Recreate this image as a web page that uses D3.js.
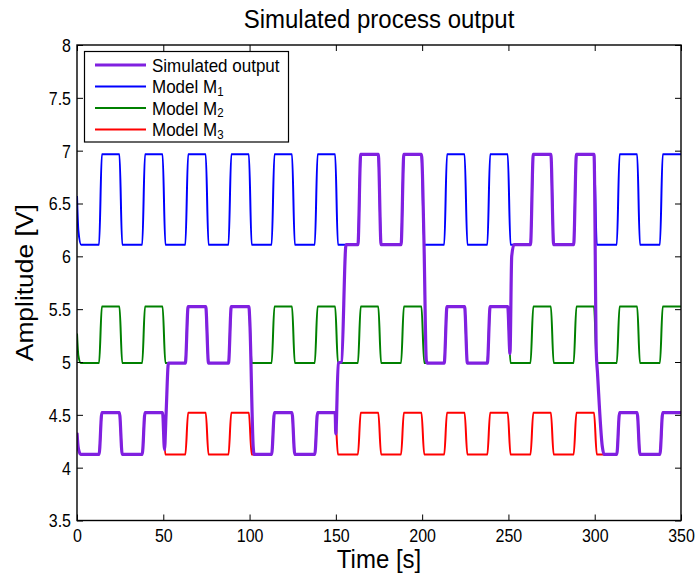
<!DOCTYPE html>
<html>
<head>
<meta charset="utf-8">
<script src="https://cdn.jsdelivr.net/npm/d3@7"></script>
<style>
  body { margin: 0; background: #fff; }
  svg text { font-family: "Liberation Sans", Arial, Helvetica, sans-serif; fill: #000; }
</style>
</head>
<body>
<div class="graph"></div>
<script>
// values
const timeDomain = [0, 350];
const ampDomain = [3.5, 8];
const xTicks = [0, 50, 100, 150, 200, 250, 300, 350];
const yTicks = [3.5, 4, 4.5, 5, 5.5, 6, 6.5, 7, 7.5, 8];

// switching instants of the square input (start of each edge, seconds)
const riseStarts = [12.8, 37.8, 62.8, 87.8, 112.8, 137.8, 162.8, 187.8, 212.8, 237.8, 262.8, 287.8, 312.8, 337.8];
const fallStarts = [24.6, 49.6, 74.6, 99.6, 124.6, 149.6, 174.6, 199.6, 224.6, 249.6, 274.6, 299.6, 324.6];
const edgeDuration = 1.6;

// [low, high] levels of each model
const m1Levels = [6.11, 6.965];
const m2Levels = [4.99, 5.525];
const m3Levels = [4.125, 4.52];

// initial transient of each model
const m1Start = [[0, 6.57], [0.8, 6.24], [2.4, 6.11]];
const m2Start = [[0, 5.27], [0.8, 5.06], [2.2, 4.99]];
const m3Start = [[0, 4.33], [0.8, 4.18], [2.2, 4.125]];

// simulated output: which model it follows on which interval, and the jumps between
const simSegments = [
  ["M3", 0, 49.7],
  ["M2", 53.1, 99.7],
  ["M3", 102.7, 149.7],
  ["M1", 156.1, 199.7],
  ["M2", 203.1, 249.7],
  ["M1", 253.3, 299.7],
  ["M3", 305.5, 350]
];
const simJumps = [
  [[50.7, 4.17], [51.6, 4.5], [53.0, 4.99]],
  [[100.1, 5.4], [102.1, 4.2], [102.6, 4.125]],
  [[149.95, 4.32], [151.4, 4.99], [153.3, 5.0], [155.9, 6.11]],
  [[201.1, 6.11], [202.4, 5.02], [203.0, 4.99]],
  [[250.9, 5.08], [251.9, 6.0], [253.2, 6.11]],
  [[300.9, 5.1], [301.6, 4.9], [304.4, 4.2], [305.4, 4.125]]
];

const legendNames = [["Simulated output", ""], ["Model M", "1"], ["Model M", "2"], ["Model M", "3"]];
const colors = { sim: "#8020e0", M1: "#0000ff", M2: "#008000", M3: "#ff0000" };

const W = 696, H = 576;
const pLeft = 77, pRight = 681, pTop = 45, pBottom = 520.5;
const sy = 1.1; // text in the reference is slightly taller than wide

const svg = d3.select(".graph").append("svg").attr("width", W).attr("height", H);
const x = d3.scaleLinear().domain(timeDomain).range([pLeft, pRight]);
const y = d3.scaleLinear().domain(ampDomain).range([pBottom, pTop]);

function modelVertices(levels, start) {
  const edges = riseStarts.map(t => [t, 1]).concat(fallStarts.map(t => [t, 0]))
    .sort((a, b) => a[0] - b[0]);
  const pts = start.slice();
  let last = levels[0];
  edges.forEach(([t, up]) => {
    if (up) { pts.push([t, levels[0]], [t + edgeDuration, levels[1]]); last = levels[1]; }
    else { pts.push([t, levels[1]], [t + edgeDuration, levels[0]]); last = levels[0]; }
  });
  pts.push([timeDomain[1], last]);
  return pts;
}

const models = {
  M1: modelVertices(m1Levels, m1Start),
  M2: modelVertices(m2Levels, m2Start),
  M3: modelVertices(m3Levels, m3Start)
};

const sim = [];
simSegments.forEach(([m, a, b], i) => {
  models[m].filter(p => p[0] >= a && p[0] <= b).forEach(p => sim.push(p));
  if (simJumps[i]) simJumps[i].forEach(p => sim.push(p));
});

svg.append("defs").append("clipPath").attr("id", "plotclip")
  .append("rect").attr("x", pLeft).attr("y", pTop).attr("width", pRight - pLeft).attr("height", pBottom - pTop);

const line = d3.line().x(d => x(d[0])).y(d => y(d[1])).curve(d3.curveMonotoneX);
const plot = svg.append("g").attr("clip-path", "url(#plotclip)");

["M1", "M2", "M3"].forEach(m => {
  plot.append("path").attr("d", line(models[m]))
    .attr("fill", "none").attr("stroke", colors[m]).attr("stroke-width", 2)
    .attr("stroke-linejoin", "round");
});
plot.append("path").attr("d", line(sim))
  .attr("fill", "none").attr("stroke", colors.sim).attr("stroke-width", 3.2)
  .attr("stroke-linejoin", "round");

// axes (ticks inside, on all four sides)
const xb = svg.append("g").attr("transform", "translate(0," + pBottom + ")")
  .call(d3.axisBottom(x).tickValues(xTicks).tickSizeInner(-6).tickSizeOuter(0).tickFormat(d3.format("d")));
xb.selectAll("text").attr("y", 0).attr("dy", 0).style("font-size", "16px")
  .attr("transform", "translate(0,21.5) scale(1," + sy + ")");
svg.append("g").attr("transform", "translate(0," + pTop + ")")
  .call(d3.axisTop(x).tickValues(xTicks).tickSizeInner(-6).tickSizeOuter(0).tickFormat(""));
const yl = svg.append("g").attr("transform", "translate(" + pLeft + ",0)")
  .call(d3.axisLeft(y).tickValues(yTicks).tickSizeInner(-6).tickSizeOuter(0).tickFormat(d3.format("")));
yl.selectAll("text").attr("x", -6).attr("dy", "0.36em").style("font-size", "16px")
  .attr("transform", "scale(1," + sy + ")");
svg.append("g").attr("transform", "translate(" + pRight + ",0)")
  .call(d3.axisRight(y).tickValues(yTicks).tickSizeInner(-6).tickSizeOuter(0).tickFormat(""));
svg.selectAll(".domain").remove();
svg.selectAll(".tick line").attr("stroke", "#000").attr("stroke-width", 1);

svg.append("rect").attr("x", pLeft).attr("y", pTop)
  .attr("width", pRight - pLeft).attr("height", pBottom - pTop)
  .attr("fill", "none").attr("stroke", "#000").attr("stroke-width", 1.4);

// title and labels
svg.append("text")
  .attr("transform", "translate(" + (pLeft + pRight) / 2 + ",28) scale(1," + sy + ")")
  .attr("text-anchor", "middle").style("font-size", "24px")
  .text("Simulated process output");
svg.append("text")
  .attr("transform", "translate(" + (pLeft + pRight) / 2 + ",568) scale(1," + sy + ")")
  .attr("text-anchor", "middle").style("font-size", "24px")
  .text("Time [s]");
svg.append("text")
  .attr("transform", "translate(33," + (pTop + pBottom) / 2 + ") rotate(-90) scale(" + sy + ",1)")
  .attr("text-anchor", "middle").style("font-size", "24px")
  .text("Amplitude [V]");

// legend
const lg = svg.append("g");
lg.append("rect").attr("x", 84.5).attr("y", 51.5).attr("width", 204).attr("height", 90.5)
  .attr("fill", "#fff").attr("stroke", "#000").attr("stroke-width", 1.2);
const legendColors = [colors.sim, colors.M1, colors.M2, colors.M3];
const rowY = d3.scaleLinear().domain([0, 3]).range([65, 129.5]);
legendNames.forEach((nm, i) => {
  const cy = rowY(i);
  lg.append("line").attr("x1", 95).attr("x2", 146).attr("y1", cy).attr("y2", cy)
    .attr("stroke", legendColors[i]).attr("stroke-width", i === 0 ? 3.2 : 2);
  const t = lg.append("text")
    .attr("transform", "translate(152," + (cy + 6.5) + ") scale(1," + sy + ")")
    .style("font-size", "17px");
  t.append("tspan").text(nm[0]);
  if (nm[1]) t.append("tspan").attr("dy", 2.5).style("font-size", "11.5px").text(nm[1]);
});
</script>
</body>
</html>
